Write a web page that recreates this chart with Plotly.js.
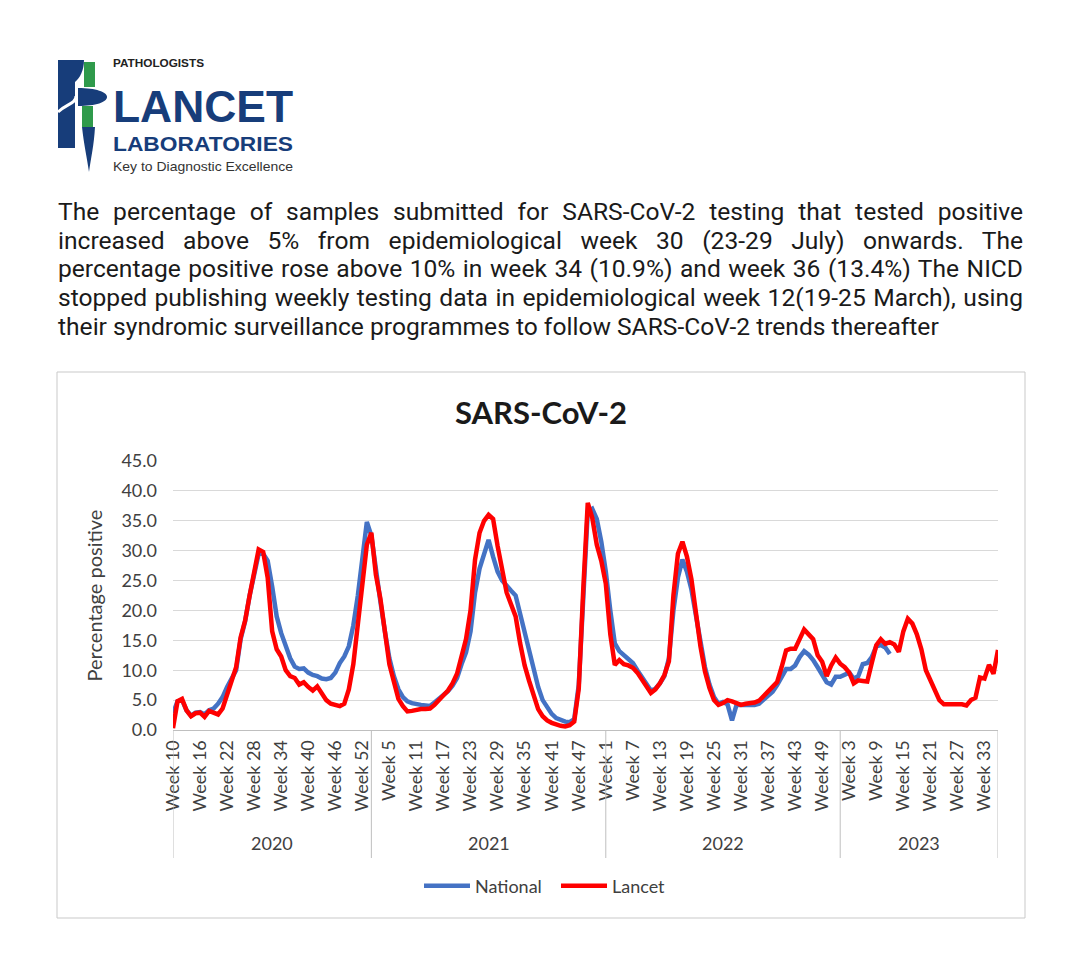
<!DOCTYPE html>
<html>
<head>
<meta charset="utf-8">
<script src="https://cdn.plot.ly/plotly-3.0.1.min.js"></script>
<style>
  html, body { margin:0; padding:0; background:#ffffff; }
  #page { position:relative; width:1080px; height:976px; overflow:hidden; background:#ffffff; }
  #chart { position:absolute; left:0; top:0; width:1080px; height:976px; }
  #logo { position:absolute; left:0; top:0; z-index:5; }
  #para { position:absolute; left:58px; top:198px; width:965px; z-index:5;
          font-family:Roboto, "Noto Sans", sans-serif; font-size:24.6px; line-height:28.7px; color:#1a1a1a; }
  #para .j { text-align:justify; text-align-last:justify; white-space:nowrap; }
  #para .l { text-align:left; white-space:nowrap; }
</style>
</head>
<body>
<div id="page">
  <div id="chart"></div>
  <svg id="logo" width="320" height="190" viewBox="0 0 320 190" xmlns="http://www.w3.org/2000/svg">
    <rect x="58" y="60" width="17" height="88" fill="#173d7a"/>
    <path d="M75,60 L84,60 C84,70 80,78 75,82 Z" fill="#173d7a"/>
    <path d="M58,112 C66,104 76,104 76,96" stroke="#ffffff" stroke-width="3" fill="none"/>
    <rect x="84" y="62" width="11" height="25" fill="#2f9a4b"/>
    <rect x="82" y="106" width="11" height="21" fill="#2f9a4b"/>
    <path d="M78,88 C96,88 107,92 107,97 C107,102 96,106 78,106 Z" fill="#173d7a"/>
    <path d="M82,127 L95,127 C94,145 91,158 89,172 C87,158 84,145 82,127 Z" fill="#173d7a"/>
    <text x="113" y="67" font-family="Liberation Sans, sans-serif" font-weight="700" font-size="10" fill="#222222" textLength="91" lengthAdjust="spacingAndGlyphs">PATHOLOGISTS</text>
    <text x="113" y="122" font-family="Liberation Sans, sans-serif" font-weight="700" font-size="45" fill="#173d7a" textLength="180" lengthAdjust="spacingAndGlyphs">LANCET</text>
    <text x="113" y="151" font-family="Liberation Sans, sans-serif" font-weight="700" font-size="21" fill="#173d7a" textLength="180" lengthAdjust="spacingAndGlyphs">LABORATORIES</text>
    <text x="113" y="171" font-family="Liberation Sans, sans-serif" font-weight="400" font-size="13" fill="#333333" textLength="180" lengthAdjust="spacingAndGlyphs">Key to Diagnostic Excellence</text>
  </svg>
  <div id="para">
    <div class="j">The percentage of samples submitted for SARS-CoV-2 testing that tested positive</div>
    <div class="j">increased above 5% from epidemiological week 30 (23-29 July) onwards. The</div>
    <div class="j">percentage positive rose above 10% in week 34 (10.9%) and week 36 (13.4%) The NICD</div>
    <div class="j">stopped publishing weekly testing data in epidemiological week 12(19-25 March), using</div>
    <div class="l">their syndromic surveillance programmes to follow SARS-CoV-2 trends thereafter</div>
  </div>
</div>
<script>
// ---- categories ----
const years = [2020, 2021, 2022, 2023];
const firstWeek = [10, 1, 1, 1];
const lastWeek = [53, 52, 52, 36];
const tickStep = 6;
const tickPrefix = "Week ";

// ---- series values (percentage positive) ----
const lancet2020 = [0.3, 4.8, 5.2, 3.3, 2.3, 2.8, 2.9, 2.2, 3.2, 2.8, 2.6, 3.6, 6.0, 8.5, 10.5, 15.5, 18.3, 22.5, 26.8, 30.2, 29.8, 25.5, 16.5, 13.5, 12.3, 10.0, 9.0, 8.7, 7.6, 8.0, 7.2, 6.6, 7.3, 6.0, 5.0, 4.4, 4.1, 4.0, 4.4, 6.8, 11.0, 17.5, 24.5, 31.0];
const lancet2021 = [33.0, 26.0, 22.0, 15.8, 11.0, 8.1, 5.2, 4.0, 3.1, 3.2, 3.4, 3.5, 3.5, 3.6, 4.2, 4.9, 5.8, 6.6, 7.8, 9.4, 12.6, 15.2, 20.0, 28.5, 33.0, 35.0, 36.0, 35.3, 30.8, 27.0, 23.0, 21.0, 19.0, 14.5, 10.8, 8.2, 5.5, 3.5, 2.3, 1.6, 1.2, 0.9, 0.7, 0.6, 0.8, 1.4, 6.9, 23.5, 38.0, 35.5, 31.0, 28.3];
const lancet2022 = [24.5, 16.0, 10.9, 11.7, 11.0, 10.8, 10.4, 9.6, 8.5, 7.4, 6.2, 6.8, 7.8, 9.2, 11.5, 22.5, 29.5, 31.5, 29.0, 25.2, 19.0, 14.0, 9.8, 7.0, 5.0, 4.2, 4.5, 5.0, 4.8, 4.4, 4.2, 4.4, 4.5, 4.6, 4.9, 5.7, 6.4, 7.1, 8.0, 10.5, 13.3, 13.6, 13.6, 15.2, 16.8, 16.0, 15.2, 12.5, 11.4, 9.0, 10.8, 12.1];
const lancet2023 = [11.1, 10.5, 9.6, 7.8, 8.3, 8.2, 8.1, 11.2, 14.2, 15.2, 14.4, 14.7, 14.3, 13.1, 16.5, 18.6, 17.8, 16.0, 13.5, 10.0, 8.2, 6.8, 5.0, 4.3, 4.3, 4.4, 4.4, 4.3, 4.1, 5.0, 5.4, 8.8, 8.6, 10.9, 9.4, 13.4];

const national2020 = [2.8, 4.8, 5.0, 3.3, 2.4, 2.9, 3.0, 2.6, 3.3, 3.6, 4.4, 5.5, 7.2, 8.5, 10.0, 15.2, 18.2, 22.5, 26.5, 29.5, 29.5, 28.3, 24.0, 19.0, 16.2, 14.0, 12.0, 10.6, 10.2, 10.3, 9.6, 9.2, 9.0, 8.6, 8.5, 8.7, 9.6, 11.2, 12.3, 14.0, 17.5, 22.5, 28.0, 34.8];
const national2021 = [32.5, 26.5, 21.5, 16.5, 12.0, 9.0, 6.8, 5.5, 4.8, 4.5, 4.3, 4.2, 4.1, 4.0, 4.6, 5.2, 5.8, 6.5, 7.4, 8.7, 11.0, 13.0, 16.5, 23.0, 27.0, 29.5, 31.8, 29.0, 26.5, 25.0, 24.0, 23.3, 22.5, 19.5, 16.0, 12.8, 10.4, 7.2, 5.0, 3.8, 2.7, 2.0, 1.6, 1.4, 1.3, 1.8, 7.5, 24.0, 36.5, 37.0, 35.3, 31.5];
const national2022 = [26.5, 20.0, 14.5, 13.2, 12.5, 11.8, 11.2, 10.0, 8.8, 7.6, 6.6, 6.9, 7.8, 9.0, 12.0, 20.0, 25.5, 28.5, 26.5, 23.5, 19.0, 14.0, 10.5, 7.6, 5.5, 4.4, 4.7, 4.3, 1.6, 4.2, 4.2, 4.2, 4.2, 4.2, 4.4, 5.0, 5.6, 6.4, 7.5, 9.0, 10.2, 10.2, 10.8, 12.2, 13.2, 12.6, 11.7, 10.5, 9.3, 8.0, 7.6, 8.9];
const national2023 = [8.9, 9.2, 9.6, 8.6, 9.0, 11.0, 11.2, 12.2, 14.0, 14.2, 13.8, 12.7,
  null, null, null, null, null, null, null, null, null, null, null, null,
  null, null, null, null, null, null, null, null, null, null, null, null];

// ---- build categories ----
const cats = [], weekOf = [], yearStartIdx = [];
years.forEach((yr, k) => {
  yearStartIdx.push(cats.length);
  for (let w = firstWeek[k]; w <= lastWeek[k]; w++) {
    cats.push(yr + " W" + w);
    weekOf.push(w);
  }
});
const lastIdx = cats.length - 1;
const tickvals = [], ticktext = [];
for (let i = 0; i < cats.length; i += tickStep) { tickvals.push(cats[i]); ticktext.push(tickPrefix + weekOf[i]); }

const lancet = [].concat(lancet2020, lancet2021, lancet2022, lancet2023);
const national = [].concat(national2020, national2021, national2022, national2023);

// ---- layout geometry (pixels) ----
const W = 1080, H = 976;
const PL = 173, PR = 998, PT = 461, PB = 730;
const pw = PR - PL, ph = PB - PT;
const px = v => (v - PL) / pw;     // page px -> paper x
const py = v => (PB - v) / ph;     // page px -> paper y

const font = "Lato, 'Open Sans', sans-serif";
const grey = "#404040";

const shapes = [];
// chart frame
shapes.push({type:"rect", xref:"paper", yref:"paper", x0:px(57), x1:px(1025), y0:py(372), y1:py(918),
  line:{color:"#c9c9c9", width:1}, fillcolor:"rgba(0,0,0,0)", layer:"below"});
// year dividers
const dividers = yearStartIdx.concat([lastIdx]);
dividers.forEach(ix => {
  shapes.push({type:"line", xref:"x", yref:"paper", x0:ix, x1:ix, y0:0, y1:py(858),
    line:{color:"#bfbfbf", width:1}});
});

const annotations = [];
years.forEach((yr, k) => {
  const a = dividers[k], b = dividers[k + 1];
  annotations.push({xref:"x", yref:"paper", x:(a + b) / 2, y:py(843), text:String(yr), showarrow:false,
    font:{family:font, size:18, color:grey}, xanchor:"center", yanchor:"middle"});
});

const traces = [
  {type:"scatter", mode:"lines", name:"National", x:cats, y:national,
   line:{color:"#4472c4", width:4.5}, connectgaps:false},
  {type:"scatter", mode:"lines", name:"Lancet", x:cats, y:lancet,
   line:{color:"#ff0000", width:4.5}}
];

const layout = {
  width:W, height:H,
  margin:{l:PL, r:W - PR, t:PT, b:H - PB, pad:0},
  paper_bgcolor:"rgba(0,0,0,0)", plot_bgcolor:"rgba(0,0,0,0)",
  title:{text:"<b>SARS-CoV-2</b>", font:{family:font, size:31, color:"#1a1a1a"},
    xref:"container", yref:"container", x:541 / W, y:1 - 413 / H, xanchor:"center", yanchor:"middle"},
  xaxis:{type:"category", categoryorder:"array", categoryarray:cats, range:[0, lastIdx],
    tickmode:"array", tickvals:tickvals, ticktext:ticktext, tickangle:-90,
    tickfont:{family:font, size:18, color:grey}, ticks:"", showgrid:false, zeroline:false,
    showline:true, linecolor:"#bfbfbf", linewidth:1, automargin:false, ticklabelstandoff:2, fixedrange:true},
  yaxis:{range:[0, 45], dtick:5, tick0:0, tickformat:".1f", showgrid:true, gridcolor:"#d9d9d9", gridwidth:1,
    zeroline:false, showline:false, ticks:"", tickfont:{family:font, size:18, color:grey},
    ticklabelstandoff:15, automargin:false, fixedrange:true,
    title:{text:"Percentage positive", font:{family:font, size:20, color:grey}, standoff:13}},
  showlegend:true,
  legend:{orientation:"h", x:px(419), xanchor:"left", y:py(886), yanchor:"middle",
    itemwidth:46, entrywidth:76, entrywidthmode:"pixels",
    font:{family:font, size:18, color:grey}, bgcolor:"rgba(0,0,0,0)", traceorder:"normal"},
  shapes:shapes, annotations:annotations
};

Plotly.newPlot("chart", traces, layout, {displayModeBar:false, staticPlot:true});
</script>
</body>
</html>
